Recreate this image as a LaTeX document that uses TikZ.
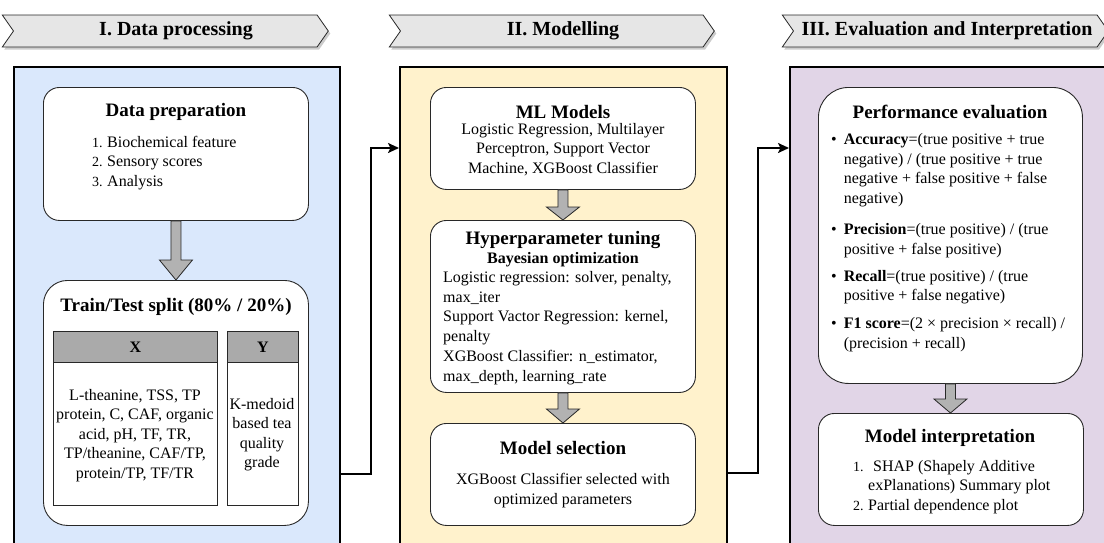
\documentclass[tikz,border=0pt]{standalone}
\usepackage{fontspec}
\setmainfont{Liberation Serif}
\usetikzlibrary{shapes.symbols,shadows,arrows.meta,calc}
\definecolor{pblue}{RGB}{218,232,252}
\definecolor{pyellow}{RGB}{255,242,204}
\definecolor{ppurple}{RGB}{225,213,231}
\definecolor{hdrgray}{RGB}{230,230,230}
\definecolor{thgray}{RGB}{170,170,170}
\definecolor{argray}{RGB}{178,178,178}
\definecolor{bord}{RGB}{40,40,40}
\newcommand\bodyfont{\fontsize{16}{19.5}\selectfont}
\newcommand\ttlfont{\fontsize{19}{22}\selectfont\bfseries}
\newcommand\hdrfont{\fontsize{20}{22}\selectfont\bfseries}
\newcommand\numfont{\fontsize{14}{19.5}\selectfont}
\newcommand\garrow[3]{%
  \draw[garrowst] let \p1=(#1.south), \p2=(#2.north) in
    (\x1-5pt,\y1) -- (\x1-5pt,\y2+#3) -- (\x1-16.5pt,\y2+#3) -- (\x1,\y2)
    -- (\x1+16.5pt,\y2+#3) -- (\x1+5pt,\y2+#3) -- (\x1+5pt,\y1) -- cycle;}
\tikzset{
  panel/.style={draw=black, line width=1.6pt, anchor=north west, inner sep=0pt},
  hdr/.style={signal, signal to=east, signal from=west, signal pointer angle=110,
    draw=bord, line width=0.8pt, fill=hdrgray, minimum height=32pt, anchor=west,
    inner sep=0pt, drop shadow={shadow xshift=2pt, shadow yshift=-2.5pt, opacity=0.4}},
  hdrtxt/.style={inner sep=0pt, font=\hdrfont},
  box/.style={draw=bord, line width=0.9pt, fill=white, rounded corners=16pt,
    anchor=north west, inner sep=0pt},
  cellh/.style={draw=bord, line width=0.8pt, fill=thgray, anchor=north west, inner sep=0pt},
  cellb/.style={draw=bord, line width=0.8pt, fill=white, anchor=north west, inner sep=0pt},
  ttl/.style={inner sep=0pt, font=\ttlfont},
  txt/.style={inner sep=0pt, font=\bodyfont},
  garrowst/.style={fill=argray, draw=bord, line width=0.8pt, line join=miter},
  conn/.style={line width=2.2pt, -{Stealth[length=11pt,width=10pt,inset=2.5pt]}},
}
\begin{document}
\begin{tikzpicture}[x=1pt,y=-1pt]
\useasboundingbox (0,0) rectangle (1104,542);
\clip (0,0) rectangle (1104,542);

% headers
\node[hdr, minimum width=326pt] (h1) at (13,31) {};
\node[hdr, minimum width=325pt] (h2) at (400,31) {};
\node[hdr, minimum width=326pt] (h3) at (793,31) {};
\node[hdrtxt] (h1t) at (176,31) {I. Data processing};
\node[hdrtxt] (h2t) at (563,31) {II. Modelling};
\node[hdrtxt] (h3t) at (947,31) {III. Evaluation and Interpretation};

% panels
\node[panel, fill=pblue, minimum width=326pt, minimum height=500pt] (p1) at (13,66) {};
\node[panel, fill=pyellow, minimum width=327pt, minimum height=500pt] (p2) at (399,66) {};
\node[panel, fill=ppurple, minimum width=340pt, minimum height=500pt] (p3) at (789,66) {};

% connectors between panels
\coordinate (y1) at (0,474);
\coordinate (y2) at (0,473);
\coordinate (yh) at (0,148);
\draw[conn] (p1.east |- y1) -- ++(30,0) |- (p2.west |- yh);
\draw[conn] (p2.east |- y2) -- ++(30,0) |- (p3.west |- yh);

% ---------- Panel I ----------
\node[box, minimum width=265pt, minimum height=133pt] (dp) at (43,87) {};
\node[box, rounded corners=24pt, minimum width=265pt, minimum height=245pt] (tt) at (43,280) {};
\garrow{dp}{tt}{20pt}
\node[ttl] (dpt) at (176,112) {Data preparation};
\node[txt, anchor=north west, align=left] (dpl) at (92,136) {\makebox[15pt][l]{\numfont 1.}Biochemical feature\\\makebox[15pt][l]{\numfont 2.}Sensory scores\\\makebox[15pt][l]{\numfont 3.}Analysis};
\node[ttl] (ttt) at (176,307) {Train/Test split (80\% / 20\%)};
\node[cellh, minimum width=164pt, minimum height=31pt] (xh) at (53,331) {};
\node[cellb, minimum width=164pt, minimum height=143pt] (xb) at (53,362) {};
\node[cellh, minimum width=71pt, minimum height=31pt] (yhd) at (227,331) {};
\node[cellb, minimum width=71pt, minimum height=143pt] (yb) at (227,362) {};
\node[inner sep=0pt, font=\fontsize{16}{18}\selectfont\bfseries] (xt) at (xh.center) {X};
\node[inner sep=0pt, font=\fontsize{16}{18}\selectfont\bfseries] (yt) at (yhd.center) {Y};
\node[txt, anchor=north, align=center] (xl) at (135,389) {L-theanine, TSS, TP\\protein, C, CAF, organic\\acid, pH, TF, TR,\\TP/theanine, CAF/TP,\\protein/TP, TF/TR};
\node[txt, anchor=north, align=center] (yl) at (262,398) {K-medoid\\based tea\\quality\\grade};

% ---------- Panel II ----------
\node[box, minimum width=265pt, minimum height=102pt] (ml) at (430,87) {};
\node[box, minimum width=265pt, minimum height=172pt] (hp) at (430,220) {};
\node[box, minimum width=265pt, minimum height=102pt] (ms) at (430,423) {};
\garrow{ml}{hp}{13pt}
\garrow{hp}{ms}{14pt}
\node[ttl] (mlt) at (563,112) {ML Models};
\node[txt, anchor=north, align=center] (mll) at (563,123) {Logistic Regression, Multilayer\\Perceptron, Support Vector\\Machine, XGBoost Classifier};
\node[ttl] (hpt) at (563,240) {Hyperparameter tuning};
\node[inner sep=0pt, font=\fontsize{16}{18}\selectfont\bfseries] (hps) at (563,260) {Bayesian optimization};
\node[anchor=north west, align=left, inner sep=0pt, font=\fontsize{16}{19.8}\selectfont] (hpl) at (443,271) {Logistic regression: solver, penalty,\\max\_iter\\Support Vactor Regression: kernel,\\penalty\\XGBoost Classifier: n\_estimator,\\max\_depth, learning\_rate};
\node[ttl] (mst) at (563,448) {Model selection};
\node[anchor=north, align=center, inner sep=0pt, font=\fontsize{16}{20}\selectfont] (msl) at (563,473) {XGBoost Classifier selected with\\optimized parameters};

% ---------- Panel III ----------
\node[box, rounded corners=30pt, minimum width=264pt, minimum height=296pt] (pe) at (818,87) {};
\node[box, minimum width=265pt, minimum height=112pt] (mi) at (818,413) {};
\garrow{pe}{mi}{14pt}
\node[ttl] (pet) at (950,112) {Performance evaluation};
\node[txt, anchor=north west] (pel) at (831,131) {%
\begin{tabular}{@{}l@{\hspace{7pt}}l@{}}
\textbullet & \textbf{Accuracy}=(true positive + true\\
 & negative) / (true positive + true\\
 & negative + false positive + false\\
 & negative)\\[12pt]
\textbullet & \textbf{Precision}=(true positive) / (true\\
 & positive + false positive)\\[7.5pt]
\textbullet & \textbf{Recall}=(true positive) / (true\\
 & positive + false negative)\\[8.5pt]
\textbullet & \textbf{F1 score}=(2 × precision × recall) /\\
 & (precision + recall)
\end{tabular}};
\node[ttl] (mit) at (950,438) {Model interpretation};
\node[txt, anchor=north west, align=left] (mil) at (853,460) {\makebox[15pt][l]{\numfont 1.}\hspace{5pt}SHAP (Shapely Additive\\\hspace{15pt}exPlanations) Summary plot\\\makebox[15pt][l]{\numfont 2.}Partial dependence plot};
\end{tikzpicture}
\end{document}
